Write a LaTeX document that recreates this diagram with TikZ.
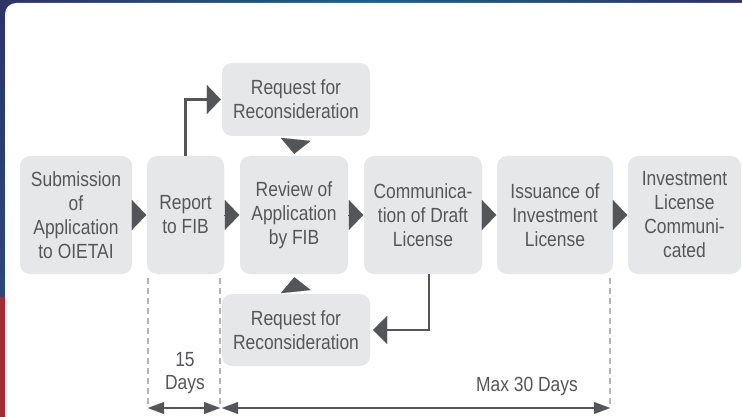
\documentclass[tikz,border=0pt]{standalone}
\usepackage{fontspec}
\setmainfont{Liberation Sans}[FakeStretch=0.85]
\usetikzlibrary{arrows.meta,calc}
\definecolor{navy}{HTML}{2F3365}
\definecolor{navyb}{HTML}{2A4878}
\definecolor{bandteal}{HTML}{17618E}
\definecolor{stripred}{HTML}{A52B37}
\definecolor{boxgray}{HTML}{E6E7E8}
\definecolor{txtgray}{HTML}{56575A}
\definecolor{arrgray}{HTML}{545558}
\definecolor{dashgray}{HTML}{B3B5B7}
\tikzset{
  box/.style={rounded corners=10pt, fill=boxgray, text=txtgray, align=center,
    inner sep=0pt, minimum height=118pt, font=\fontsize{20.5}{24}\selectfont},
  lbl/.style={text=txtgray, align=center, inner sep=0pt, font=\fontsize{20.5}{23}\selectfont},
  tipconn/.style={draw=arrgray, line width=0.1pt,
    -{Triangle[length=14.5pt,width=30pt,line width=0.01pt]}},
  conn/.style={draw=arrgray, line width=2.5pt,
    -{Triangle[length=14pt,width=29pt,line width=0.01pt]}},
  dimarrow/.style={draw=arrgray, line width=2.5pt,
    {Triangle[length=16pt,width=12pt,line width=0.01pt]}-{Triangle[length=16pt,width=12pt,line width=0.01pt]}},
  dashline/.style={draw=dashgray, line width=2.3pt, dash pattern=on 6pt off 4pt}
}
\begin{document}
\begin{tikzpicture}[x=1pt,y=-1pt]
\useasboundingbox (0,0) rectangle (742,417);
% frame
\fill[navy] (0,0) rectangle (742,417);
\shade[top color=navy, bottom color=navyb] (0,0) rectangle (5,297);
\fill[stripred] (0,297) rectangle (5,417);
\shade[left color=navy, right color=navy, middle color=bandteal] (0,0) rectangle (742,3);
\fill[white] (742,417) -- (5,417) [rounded corners=11pt] -- (5,3) [sharp corners] -- (742,3) -- cycle;

% boxes
\node[box, minimum width=112pt] (b1) at (76,215) {Submission\\of\\Application\\to OIETAI};
\node[box, minimum width=77pt] (b2) at (185.5,215) {Report\\to FIB};
\node[box, minimum width=108pt] (b3) at (294,215) {Review of\\Application\\by FIB};
\node[box, minimum width=118pt] (b4) at (423,215) {Communica-\\tion of Draft\\License};
\node[box, minimum width=116pt] (b5) at (555,215) {Issuance of\\Investment\\License};
\node[box, minimum width=113pt] (b6) at (684.5,215) {Investment\\License\\Communi-\\cated};
\node[box, minimum width=148pt, minimum height=73pt] (r1) at (296,99.5) {Request for\\Reconsideration};
\node[box, minimum width=148pt, minimum height=72pt] (r2) at (296,330) {Request for\\Reconsideration};

% triangle connectors
\draw[tipconn, shorten >=0.5pt] (b1.east) -- (b2.west);
\draw[tipconn, shorten >=0.5pt] (b2.east) -- (b3.west);
\draw[tipconn, shorten >=0.5pt] (b3.east) -- (b4.west);
\draw[tipconn, shorten >=0.5pt] (b4.east) -- (b5.west);
\draw[tipconn, shorten >=0.5pt] (b5.east) -- (b6.west);
\draw[tipconn, shorten <=4pt, shorten >=2pt] (r1.south) -- (b3.north);
\draw[tipconn, shorten <=3pt, shorten >=3pt] (r2.north) -- (b3.south);

% elbow connectors
\draw[conn, shorten >=1pt] (b2.north) |- (r1.west);
\draw[conn, shorten >=3pt, -{Triangle[length=14pt,width=28pt,line width=0.01pt]}] ([xshift=6pt]b4.south) |- (r2.east);

% dashed guides
\coordinate (g1a) at (148,278); \coordinate (g1b) at (148,406);
\coordinate (g2a) at (220,278); \coordinate (g2b) at (220,406);
\coordinate (g3a) at (610,278); \coordinate (g3b) at (610,406);
\draw[dashline] (g1a) -- (g1b);
\draw[dashline] (g2a) -- (g2b);
\draw[dashline] (g3a) -- (g3b);

% dimension arrows
\coordinate (m1) at (148,408); \coordinate (m2) at (220,408);
\coordinate (m3) at (222,408); \coordinate (m4) at (610,408);
\draw[dimarrow] (m1) -- (m2);
\draw[dimarrow] (m3) -- (m4);

\node[lbl] (t15) at (185,373) {15\\Days};
\node[lbl] (tmax) at (527,386) {Max 30 Days};
\end{tikzpicture}
\end{document}
